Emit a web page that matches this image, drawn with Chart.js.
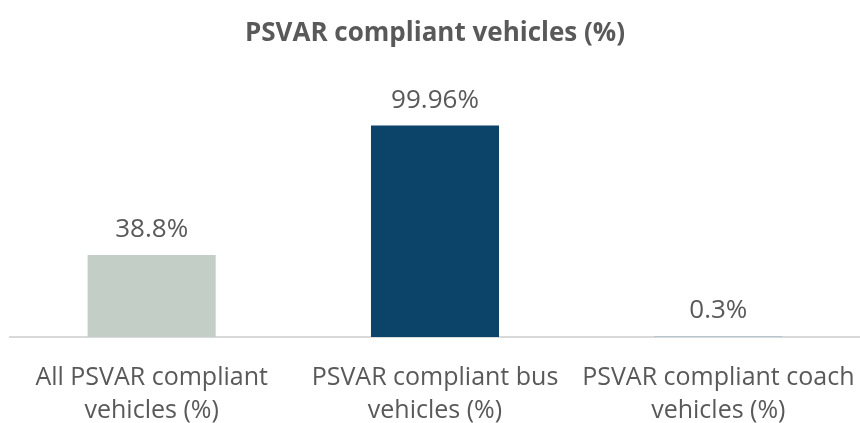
<!DOCTYPE html>
<html>
<head>
<meta charset="utf-8">
<script src="https://cdn.jsdelivr.net/npm/chart.js@4"></script>
<style>
    html, body { margin: 0; padding: 0; background: #fff; }
    #wrap { width: 860px; height: 423px; }
</style>
</head>
<body>
<div id="wrap"><canvas id="chart" width="860" height="423"></canvas></div>
<script>
const categories = [
    ['All PSVAR compliant', 'vehicles (%)'],
    ['PSVAR compliant bus', 'vehicles (%)'],
    ['PSVAR compliant coach', 'vehicles (%)']
];
const values = [38.8, 99.96, 0.3];
const valueLabels = ['38.8%', '99.96%', '0.3%'];
const barColors = ['#c3cec6', '#0b4468', '#a9bccb'];

const textColor = '#595959';
const fontFamily = '"Open Sans", "Liberation Sans", sans-serif';

// --- Value labels above bars ---
const valueLabelPlugin = {
    id: 'valueLabels',
    afterDatasetsDraw(chart) {
        const ctx = chart.ctx;
        const meta = chart.getDatasetMeta(0);
        ctx.save();
        ctx.fillStyle = textColor;
        ctx.font = '26px ' + fontFamily;
        ctx.textAlign = 'center';
        ctx.textBaseline = 'alphabetic';
        meta.data.forEach((bar, i) => {
            ctx.fillText(valueLabels[i], bar.x, bar.y - 18);
        });
        ctx.restore();
    }
};

new Chart(document.getElementById('chart'), {
    type: 'bar',
    data: {
        labels: categories,
        datasets: [{
            data: values,
            backgroundColor: barColors,
            borderWidth: 0,
            categoryPercentage: 1,
            barPercentage: 0.452
        }]
    },
    options: {
        responsive: false,
        animation: false,
        layout: { padding: { left: 10, right: 0, top: 0, bottom: 0 } },
        plugins: {
            legend: { display: false },
            tooltip: { enabled: false },
            title: {
                display: true,
                text: 'PSVAR compliant vehicles (%)',
                color: textColor,
                font: { family: fontFamily, size: 26, weight: 'bold', lineHeight: 1.2 },
                padding: { top: 18, bottom: 34 }
            }
        },
        scales: {
            y: {
                display: false,
                min: 0,
                max: 120
            },
            x: {
                grid: { display: false, drawTicks: false },
                border: { display: true, color: '#d9d9d9', width: 2 },
                ticks: {
                    color: textColor,
                    font: { family: fontFamily, size: 25, lineHeight: 1.3 },
                    padding: 25,
                    maxRotation: 0,
                    autoSkip: false
                },
                afterFit(scale) {
                    // labels are allowed to run to the canvas edge, as in the original
                    scale.height = 86;
                    scale.paddingLeft = 0;
                    scale.paddingRight = 0;
                }
            }
        }
    },
    plugins: [valueLabelPlugin]
});
</script>
</body>
</html>
